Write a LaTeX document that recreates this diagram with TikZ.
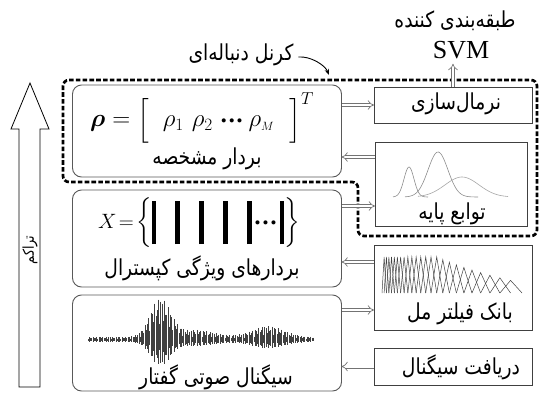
\documentclass[tikz,border=0pt]{standalone}
\usepackage{amsmath,bm}
\usepackage{fontspec}
\setmainfont{Liberation Serif}
\newfontfamily\fafont[Script=Arabic,FakeStretch=0.85]{DejaVu Sans}
\TeXXeTstate=1
\usetikzlibrary{arrows.meta}
\newcommand{\cepbar}{\rule[-16pt]{4.8pt}{43pt}}
\newcommand{\vecdots}{\text{\fontsize{17}{17}\selectfont•\hspace{2pt}•\hspace{2pt}•}}

\begin{document}
\begin{tikzpicture}[x=1pt,y=-1pt,
        roundn/.style={draw=black!65, line width=0.9pt, rounded corners=9pt, minimum width=269pt},
        plainn/.style={draw=black!75, line width=0.9pt, minimum width=158pt},
        textn/.style={font=\fafont\fontsize{22}{24}\selectfont},
        mathn/.style={font=\fontsize{22}{22}\selectfont},
        arr/.style={draw=black!55, double=white, double distance=2.6pt, line width=0.7pt, -{Implies}},
        kern/.style={line width=2.7pt, dash pattern=on 4.6pt off 2.2pt, rounded corners=6pt},
        every node/.style={inner sep=0pt, outer sep=0pt},
    ]
    \useasboundingbox (0,0) rectangle (539,394);

    \node[roundn, minimum height=92pt](vec) at (207,131){};
    \node[roundn, minimum height=97pt](cep) at (207,238.5){};
    \node[roundn, minimum height=96pt](sig) at (207,343){};
    \node[plainn, minimum height=36pt](norm) at (453,105){};
    \node[plainn, minimum width=152pt, minimum height=84pt](basis) at (451,184){};
    \node[plainn, minimum height=85pt](mel) at (453,287.5){};
    \node[plainn, minimum height=37pt](recv) at (453,366.5){};

    \node[textn](normt) at (456,104){\beginR نرمال‌سازی\endR};
    \node[textn](recvt) at (461,367){\beginR دریافت سیگنال\endR};
    \node[mathn, font=\fontsize{24}{22}\selectfont](vecf) at (202,118){$\bm{\rho}=\left[\rule[-12pt]{0pt}{28pt}\hspace{14pt}\rho_1\hspace{8pt}\rho_2\hspace{8pt}\vecdots\hspace{6pt}\rho_{\scriptscriptstyle M}\hspace{15pt}\right]^{T}$};
    \node[textn](vect) at (207,159){\beginR بردار مشخصه\endR};
    \node[mathn](cepf) at (199,223){$X\!=\!\left\{\cepbar\hspace{19pt}\cepbar\hspace{19pt}\cepbar\hspace{19pt}\cepbar\hspace{19pt}\cepbar\hspace{3pt}\vecdots\hspace{3pt}\cepbar\right\}$};
    \node[textn](cept) at (202,268){\beginR بردارهای ویژگی کپسترال\endR};
    \node[textn](sigt) at (216,377){\beginR سیگنال صوتی گفتار\endR};
    \node[textn](basist) at (452,214){\beginR توابع پایه\endR};
    \node[textn](melt) at (460,314){\beginR بانک فیلتر مل\endR};

    \node[textn](cls) at (455,21){\beginR طبقه‌بندی کننده\endR};
    \node[font=\fontsize{26}{28}\selectfont](svm) at (461,50){SVM};
    \node[textn](klab) at (241,55){\beginR کرنل دنباله‌ای\endR};
    \coordinate(kpt) at (329,75);
    \coordinate(b1) at ([yshift=27pt]basis.west);
    \coordinate(b2) at ([yshift=-22pt]basis.west);
    \coordinate(m1) at ([yshift=25.5pt]mel.west);
    \coordinate(m2) at ([yshift=-22.5pt]mel.west);

    \foreach \i in {0,...,186}{
        \pgfmathsetmacro\wx{88+1.21*\i}
        \pgfmathsetmacro\wa{3+38*exp(-((\wx-160)/14)^2)+11*exp(-((\wx-268)/22)^2)+7*exp(-((\wx-195)/28)^2)}
        \pgfmathsetmacro\wr{0.3+0.7*abs(sin(\i*67))}
        \draw[black!75, line width=0.45pt] (\wx,340-\wa*\wr) -- (\wx,340+0.6*\wa*\wr);
    }

    \foreach \i in {1,...,24}{
        \pgfmathsetmacro\ma{382+140*(exp(0.07*(\i-1))-1)/(exp(1.75)-1)}
        \pgfmathsetmacro\mb{382+140*(exp(0.07*\i)-1)/(exp(1.75)-1)}
        \pgfmathsetmacro\mc{382+140*(exp(0.07*(\i+1))-1)/(exp(1.75)-1)}
        \pgfmathsetmacro\mh{\i<16 ? 36 : 36-(\i-15)*2.6}
        \draw[black!75, line width=0.5pt] (\ma,293) -- (\mb,293-\mh) -- (\mc,293);
    }

    \draw[black!45, line width=0.6pt, domain=393:428, samples=40] plot (\x,{197-30*exp(-((\x-409)/7)^2)});
    \draw[black!45, line width=0.6pt, domain=405:478, samples=60] plot (\x,{197-45*exp(-((\x-438)/14)^2)});
    \draw[black!35, line width=0.6pt, domain=418:508, samples=60] plot (\x,{197-20*exp(-((\x-462)/24)^2)});

    \draw[kern] (63,80) -- (537,80) -- (537,236) -- (358,236) -- (358,182) -- (63,182) -- cycle;

    \draw[arr] (vec.east |- norm.west) -- (norm.west);
    \draw[arr] (b1) -- (vec.east |- b1);
    \draw[arr] (cep.east |- b2) -- (b2);
    \draw[arr] (m1) -- (cep.east |- m1);
    \draw[arr] (sig.east |- m2) -- (m2);
    \draw[arr] (recv.west) -- (sig.east |- recv.west);
    \draw[arr] (norm.north) -- ([yshift=-5pt]norm.north |- svm.south);

    \draw[-{Stealth[length=6pt]}, line width=0.9pt] ([xshift=5pt,yshift=-2pt]klab.east) .. controls +(12,-1) and +(-4,-10) .. (kpt);

    \draw[fill=white, line width=0.8pt] (19,387) -- (19,129) -- (11,129) -- (30,83) -- (49,129) -- (40,129) -- (40,387) -- cycle;
    \node[rotate=90, font=\fafont\fontsize{15}{17}\selectfont](dens) at (30,250){\beginR تراکم\endR};
\end{tikzpicture}
\end{document}
